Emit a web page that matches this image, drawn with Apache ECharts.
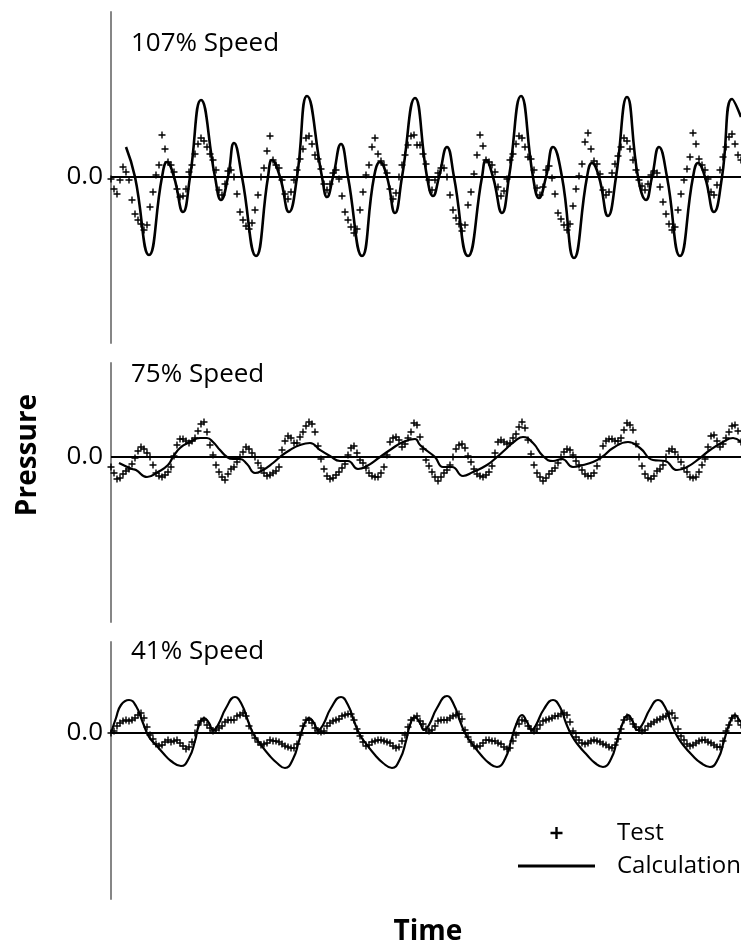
<!DOCTYPE html>
<html>
<head>
<meta charset="utf-8">
<script src="https://cdn.jsdelivr.net/npm/echarts@6/dist/echarts.min.js"></script>
<style>
  html, body { margin: 0; padding: 0; background: #fff; }
  #main { width: 741px; height: 950px; }
</style>
</head>
<body>
<div id="main"></div>
<script>
// time axis runs 0..630, test samples every 3 units
const testStep = 3;
const panelTitles = ['107% Speed', '75% Speed', '41% Speed'];

// 107% speed
const test1 = [
  -0.02, -0.12, -0.17, -0.03, 0.10, 0.05, -0.03, -0.23, -0.37, -0.43,
  -0.47, -0.53, -0.48, -0.30, -0.15, 0.02, 0.12, 0.42, 0.28, 0.15,
  0.12, 0.05, -0.12, -0.20, -0.19, -0.12, 0.05, 0.12, 0.23, 0.33,
  0.39, 0.36, 0.30, 0.23, 0.17, 0.07, -0.13, -0.18, -0.07, 0.06,
  0.07, 0.00, -0.17, -0.35, -0.43, -0.49, -0.52, -0.46, -0.33, -0.18,
  0.00, 0.09, 0.26, 0.41, 0.17, 0.12, 0.09, -0.03, -0.17, -0.22,
  -0.15, -0.03, 0.07, 0.18, 0.28, 0.39, 0.41, 0.33, 0.22, 0.18,
  0.08, -0.07, -0.13, -0.07, 0.04, 0.07, -0.02, -0.19, -0.35, -0.43,
  -0.50, -0.56, -0.52, -0.33, -0.15, 0.02, 0.12, 0.30, 0.39, 0.23,
  0.16, 0.12, 0.04, -0.12, -0.22, -0.16, 0.00, 0.12, 0.22, 0.32,
  0.41, 0.42, 0.32, 0.32, 0.23, 0.13, -0.03, -0.13, -0.03, 0.04,
  0.09, 0.09, 0.00, -0.18, -0.33, -0.41, -0.47, -0.54, -0.48, -0.28,
  -0.15, 0.03, 0.22, 0.42, 0.31, 0.17, 0.15, 0.12, 0.05, -0.10,
  -0.19, -0.14, -0.02, 0.17, 0.23, 0.33, 0.41, 0.39, 0.30, 0.20,
  0.18, 0.07, -0.11, -0.18, -0.10, 0.07, 0.11, -0.01, -0.17, -0.36,
  -0.42, -0.48, -0.53, -0.47, -0.29, -0.12, 0.01, 0.13, 0.35, 0.44,
  0.28, 0.16, 0.13, 0.03, -0.13, -0.18, -0.15, 0.04, 0.13, 0.21,
  0.30, 0.39, 0.36, 0.28, 0.17, 0.07, -0.03, -0.09, -0.13, -0.07,
  0.02, 0.06, 0.04, -0.10, -0.25, -0.37, -0.47, -0.53, -0.50, -0.33,
  -0.17, -0.03, 0.08, 0.20, 0.44, 0.33, 0.18, 0.12, 0.07, -0.02,
  -0.15, -0.18, -0.08, 0.07, 0.20, 0.30, 0.40, 0.43, 0.33, 0.22,
  0.17
];
const calc1 = [
  [15, 0.30], [24, 0], [38, -0.78], [51, 0], [56, 0.15], [63, 0], [72, -0.35], [79, 0],
  [90, 0.77], [104, 0], [110, -0.23], [117, 0], [123, 0.34], [131, 0], [145, -0.79], [157, 0],
  [161, 0.17], [169, 0], [178, -0.35], [186, 0], [196, 0.81], [211, 0], [216, -0.20], [222, 0],
  [230, 0.33], [237, 0], [251, -0.79], [263, 0], [269, 0.15], [276, 0], [284, -0.36], [291, 0],
  [304, 0.79], [316, 0], [322, -0.19], [328, 0], [336, 0.30], [343, 0], [357, -0.79], [371, 0],
  [375, 0.17], [382, 0], [391, -0.36], [398, 0], [410, 0.81], [422, 0], [428, -0.21], [435, 0],
  [442, 0.30], [451, 0], [463, -0.81], [476, 0], [481, 0.14], [488, 0], [497, -0.39], [505, 0],
  [516, 0.80], [527, 0], [535, -0.23], [541, 0], [548, 0.30], [556, 0], [569, -0.79], [582, 0],
  [587, 0.14], [594, 0], [603, -0.35], [611, 0], [621, 0.78], [630, 0.60]
];

// 75% speed
const test2 = [
  -0.10, -0.16, -0.22, -0.21, -0.17, -0.14, -0.12, -0.07, -0.01, 0.06,
  0.10, 0.08, 0.04, 0.00, -0.08, -0.16, -0.19, -0.20, -0.18, -0.15,
  -0.10, 0.01, 0.12, 0.18, 0.18, 0.16, 0.14, 0.16, 0.19, 0.26,
  0.33, 0.35, 0.25, 0.12, 0.02, -0.08, -0.15, -0.20, -0.23, -0.17,
  -0.12, -0.10, -0.05, 0.00, 0.05, 0.10, 0.08, 0.04, 0.00, -0.06,
  -0.11, -0.16, -0.19, -0.18, -0.16, -0.14, -0.10, 0.07, 0.16, 0.21,
  0.19, 0.14, 0.14, 0.20, 0.25, 0.31, 0.35, 0.33, 0.25, 0.11,
  -0.02, -0.12, -0.19, -0.22, -0.21, -0.18, -0.15, -0.11, -0.07, 0.02,
  0.09, 0.11, 0.04, -0.03, -0.06, -0.11, -0.16, -0.19, -0.20, -0.20,
  -0.16, -0.10, 0.02, 0.15, 0.19, 0.20, 0.17, 0.10, 0.13, 0.19,
  0.25, 0.34, 0.32, 0.20, 0.08, -0.03, -0.09, -0.15, -0.20, -0.24,
  -0.20, -0.16, -0.13, -0.08, 0.00, 0.08, 0.12, 0.13, 0.09, 0.01,
  -0.05, -0.12, -0.17, -0.19, -0.20, -0.18, -0.15, -0.09, 0.04, 0.15,
  0.17, 0.15, 0.13, 0.14, 0.19, 0.23, 0.30, 0.35, 0.29, 0.17,
  0.03, -0.08, -0.16, -0.20, -0.24, -0.21, -0.17, -0.14, -0.11, -0.06,
  0.00, 0.05, 0.08, 0.07, 0.02, -0.04, -0.08, -0.13, -0.17, -0.19,
  -0.19, -0.16, -0.09, 0.00, 0.11, 0.16, 0.18, 0.18, 0.16, 0.16,
  0.19, 0.27, 0.34, 0.32, 0.27, 0.13, 0.00, -0.09, -0.17, -0.21,
  -0.22, -0.19, -0.14, -0.12, -0.08, 0.00, 0.06, 0.08, 0.05, 0.00,
  -0.05, -0.11, -0.15, -0.20, -0.21, -0.20, -0.15, -0.08, -0.02, 0.10,
  0.21, 0.22, 0.16, 0.10, 0.13, 0.19, 0.25, 0.31, 0.32, 0.26,
  0.15
];
const calc2 = [
  [8, -0.06], [21, -0.12], [25, -0.13], [36, -0.20], [47, -0.15], [57, -0.08], [62, 0.00], [69, 0.09],
  [79, 0.15], [89, 0.19], [96, 0.19], [102, 0.15], [109, 0.07], [116, 0.00], [122, -0.02], [129, -0.02],
  [136, -0.07], [144, -0.16], [152, -0.13], [162, -0.06], [169, 0.00], [179, 0.07], [189, 0.12], [199, 0.14],
  [209, 0.07], [219, 0.01], [229, -0.04], [237, -0.04], [247, -0.12], [256, -0.09], [269, 0.00], [279, 0.07],
  [292, 0.15], [304, 0.18], [309, 0.12], [319, 0.04], [324, 0.00], [332, -0.10], [341, -0.10], [352, -0.19],
  [362, -0.15], [376, -0.08], [386, 0.00], [396, 0.09], [404, 0.16], [412, 0.20], [422, 0.14], [432, 0.01],
  [442, -0.04], [451, -0.02], [462, -0.10], [472, -0.08], [482, -0.05], [491, 0.00], [502, 0.09], [517, 0.15],
  [529, 0.09], [542, -0.03], [554, -0.04], [566, -0.13], [576, -0.10], [589, -0.01], [599, 0.07], [612, 0.15],
  [622, 0.19], [630, 0.15]
];

// 41% speed
const test3 = [
  0.00, 0.02, 0.07, 0.10, 0.12, 0.13, 0.12, 0.13, 0.15, 0.18,
  0.20, 0.15, 0.06, -0.02, -0.06, -0.11, -0.13, -0.12, -0.09, -0.07,
  -0.09, -0.08, -0.07, -0.10, -0.13, -0.16, -0.14, -0.09, 0.00, 0.08,
  0.12, 0.13, 0.08, 0.05, 0.02, 0.03, 0.05, 0.07, 0.11, 0.13,
  0.13, 0.13, 0.17, 0.18, 0.20, 0.17, 0.07, 0.00, -0.05, -0.09,
  -0.12, -0.11, -0.10, -0.07, -0.08, -0.08, -0.09, -0.11, -0.13, -0.14,
  -0.15, -0.15, -0.11, -0.02, 0.07, 0.13, 0.13, 0.10, 0.05, 0.02,
  0.01, 0.02, 0.07, 0.10, 0.12, 0.13, 0.14, 0.17, 0.18, 0.19,
  0.19, 0.13, 0.04, -0.03, -0.09, -0.13, -0.12, -0.09, -0.08, -0.07,
  -0.07, -0.08, -0.09, -0.10, -0.13, -0.15, -0.14, -0.08, -0.02, 0.06,
  0.13, 0.15, 0.17, 0.12, 0.09, 0.04, 0.02, 0.03, 0.07, 0.12,
  0.13, 0.13, 0.13, 0.15, 0.17, 0.18, 0.19, 0.14, 0.03, -0.04,
  -0.09, -0.13, -0.14, -0.13, -0.10, -0.07, -0.07, -0.08, -0.08, -0.10,
  -0.11, -0.14, -0.16, -0.15, -0.08, -0.02, 0.09, 0.13, 0.12, 0.07,
  0.04, 0.02, 0.04, 0.08, 0.12, 0.13, 0.14, 0.15, 0.17, 0.17,
  0.19, 0.20, 0.18, 0.11, 0.02, -0.04, -0.07, -0.10, -0.11, -0.10,
  -0.08, -0.07, -0.08, -0.09, -0.11, -0.12, -0.14, -0.15, -0.12, -0.06,
  0.04, 0.13, 0.16, 0.14, 0.09, 0.06, 0.03, 0.02, 0.03, 0.07,
  0.09, 0.11, 0.13, 0.14, 0.16, 0.17, 0.19, 0.20, 0.15, 0.04,
  -0.03, -0.07, -0.11, -0.13, -0.12, -0.10, -0.08, -0.07, -0.07, -0.09,
  -0.10, -0.12, -0.14, -0.14, -0.08, 0.02, 0.08, 0.15, 0.17, 0.12,
  0.08
];
const calc3 = [
  [0, 0.00], [5, 0.15], [10, 0.28], [18, 0.33], [25, 0.27], [32, 0.10], [38, -0.04], [45, -0.12],
  [52, -0.20], [60, -0.28], [70, -0.33], [78, -0.25], [84, -0.08], [88, 0.08], [93, 0.15], [98, 0.10],
  [102, 0.03], [107, 0.08], [115, 0.25], [124, 0.36], [131, 0.28], [137, 0.12], [143, -0.02], [150, -0.12],
  [158, -0.22], [166, -0.30], [174, -0.35], [182, -0.26], [188, -0.08], [193, 0.08], [198, 0.15], [203, 0.10],
  [207, 0.03], [212, 0.08], [220, 0.25], [230, 0.36], [237, 0.28], [243, 0.12], [249, -0.02], [256, -0.12],
  [264, -0.22], [272, -0.30], [281, -0.35], [289, -0.26], [295, -0.08], [299, 0.08], [304, 0.16], [309, 0.10],
  [313, 0.03], [318, 0.08], [326, 0.25], [336, 0.37], [343, 0.28], [349, 0.12], [355, -0.02], [362, -0.12],
  [370, -0.22], [378, -0.30], [386, -0.34], [394, -0.26], [400, -0.08], [405, 0.08], [411, 0.18], [416, 0.11],
  [421, 0.03], [425, 0.08], [433, 0.24], [442, 0.33], [449, 0.26], [455, 0.10], [461, -0.03], [468, -0.13],
  [476, -0.22], [484, -0.30], [492, -0.34], [500, -0.26], [506, -0.08], [511, 0.08], [517, 0.18], [522, 0.11],
  [526, 0.03], [531, 0.08], [539, 0.24], [547, 0.33], [554, 0.26], [560, 0.10], [566, -0.03], [573, -0.13],
  [581, -0.22], [590, -0.30], [599, -0.34], [607, -0.26], [613, -0.08], [618, 0.08], [624, 0.18], [629, 0.12],
  [630, 0.11]
];

const yRanges = [[-1.66, 1.65], [-1.65, 0.94], [-1.66, 0.91]];

const FONT = '"Open Sans", sans-serif';
const plusIcon = 'path://M0,2.8H7V4.2H0Z M2.8,0H4.2V7H2.8Z';
const lineIcon = 'path://M0,0H77V3H0Z';
const axisGray = '#868686';

const chart = echarts.init(document.getElementById('main'), null, { renderer: 'canvas' });

const grids = [
  { left: 111, right: 0, top: 12, height: 331 },
  { left: 111, right: 0, top: 363, height: 259 },
  { left: 111, right: 0, top: 642, height: 257 }
];

const xAxes = grids.map((g, i) => ({
  type: 'value', gridIndex: i, min: 0, max: 630,
  axisLine: { lineStyle: { color: axisGray, width: 2 } },
  axisTick: { show: false }, axisLabel: { show: false }, splitLine: { show: false }
}));

const yAxes = grids.map((g, i) => ({
  type: 'value', gridIndex: i, min: yRanges[i][0], max: yRanges[i][1],
  axisLine: { show: true, lineStyle: { color: axisGray, width: 2 } },
  axisTick: { show: false },
  splitLine: { show: false },
  axisLabel: {
    customValues: [0],
    formatter: () => '0.0',
    color: '#000', fontSize: 26, fontFamily: FONT, margin: 8
  }
}));

const tests = [test1, test2, test3];
const calcs = [calc1, calc2, calc3];
const series = [];
tests.forEach((vals, i) => {
  series.push({
    name: 'Test', type: 'scatter', xAxisIndex: i, yAxisIndex: i,
    symbol: plusIcon, symbolSize: 7,
    itemStyle: { color: '#000', opacity: 1 },
    data: vals.map((v, k) => [k * testStep, v]),
    z: 3
  });
  series.push({
    name: 'Calculation', type: 'line', xAxisIndex: i, yAxisIndex: i,
    smooth: 0.5, showSymbol: false, symbol: 'none',
    itemStyle: { color: '#000' },
    lineStyle: { color: '#000', width: i === 0 ? 2.6 : 2.2 },
    data: calcs[i],
    markLine: {
      silent: true, symbol: 'none', animation: false,
      label: { show: false },
      lineStyle: { color: '#000', width: 2, type: 'solid' },
      data: [{ yAxis: 0 }]
    },
    z: 4
  });
});

const titleTops = [31, 362, 639];

chart.setOption({
  animation: false,
  backgroundColor: '#fff',
  title: panelTitles.map((t, i) => ({
    text: t, left: 131, top: titleTops[i], padding: 0,
    textStyle: { fontSize: 26, fontWeight: 'normal', color: '#000', fontFamily: FONT }
  })),
  grid: grids,
  xAxis: xAxes,
  yAxis: yAxes,
  legend: {
    orient: 'vertical', left: 513, top: 815,
    itemWidth: 77, itemHeight: 12, itemGap: 7,
    data: [{ name: 'Test', icon: plusIcon }, { name: 'Calculation', icon: lineIcon }],
    textStyle: { fontSize: 24, color: '#000', fontFamily: FONT, lineHeight: 26, padding: [0, 0, 0, 17] }
  },
  graphic: [
    {
      type: 'text', x: 28, y: 455, rotation: Math.PI / 2,
      style: { text: 'Pressure', fontSize: 28, fontWeight: 'bold', fontFamily: FONT, fill: '#000', align: 'center', verticalAlign: 'middle' }
    },
    {
      type: 'text', x: 428, y: 932,
      style: { text: 'Time', fontSize: 28, fontWeight: 'bold', fontFamily: FONT, fill: '#000', align: 'center', verticalAlign: 'middle' }
    }
  ],
  series: series
});
</script>
</body>
</html>
